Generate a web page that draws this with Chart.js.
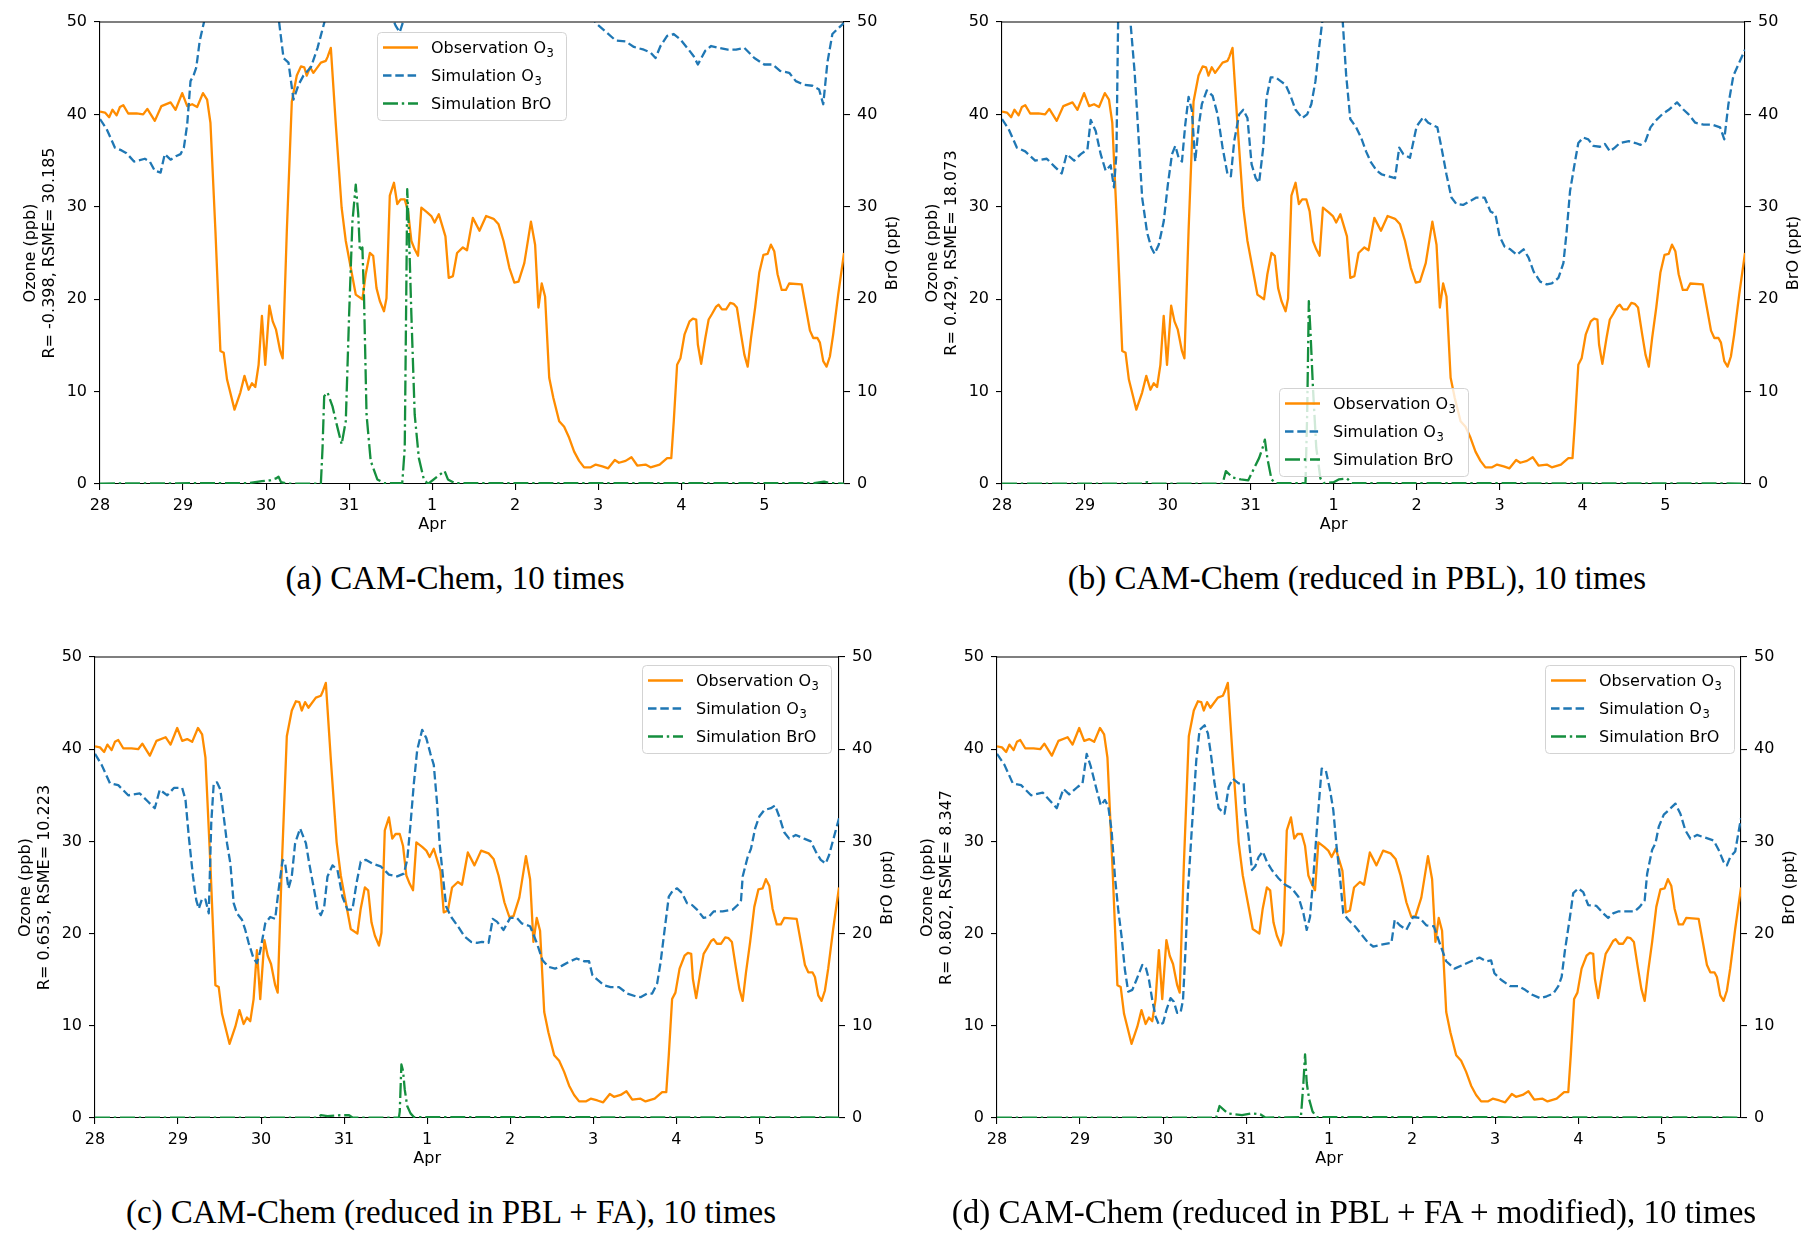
<!DOCTYPE html>
<html>
<head>
<meta charset="utf-8">
<title>Ozone and BrO, CAM-Chem runs</title>
<script src="https://cdn.jsdelivr.net/npm/chart.js@4.4.1/dist/chart.umd.min.js"></script>
<style>
  html, body { margin: 0; padding: 0; background: #fff; }
  body { width: 1819px; height: 1247px; position: relative; overflow: hidden; }
  .panel { position: absolute; }
  .caption {
    position: absolute;
    font-family: "Liberation Serif", "Times New Roman", serif;
    font-size: 33px;
    line-height: 33px;
    white-space: nowrap;
    transform: translateX(-50%);
    color: #000;
  }
</style>
</head>
<body>
<script>
// time axis: days since 28 Mar 00:00
const dayTicks = [0, 1, 2, 3, 4, 5, 6, 7, 8];
const dayLabels = ['28', '29', '30', '31', ['1', 'Apr'], '2', '3', '4', '5'];
const dayMax = 8.96;

const seriesNames = ['Observation O₃', 'Simulation O₃', 'Simulation BrO'];
const captions = [
    '(a) CAM-Chem, 10 times',
    '(b) CAM-Chem (reduced in PBL), 10 times',
    '(c) CAM-Chem (reduced in PBL + FA), 10 times',
    '(d) CAM-Chem (reduced in PBL + FA + modified), 10 times'
];
const statLabels = [
    'R= -0.398, RSME= 30.185',
    'R= 0.429, RSME= 18.073',
    'R= 0.653, RSME= 10.223',
    'R= 0.802, RSME= 8.347'
];

// observed ozone (ppb), same in all panels
const obsDays = [0.00,0.06,0.11,0.15,0.20,0.24,0.28,0.34,0.44,0.52,0.57,0.66,0.74,0.85,0.91,0.99,1.05,1.11,1.17,1.24,1.29,1.33,1.39,1.45,1.49,1.53,1.62,1.69,1.74,1.79,1.83,1.87,1.91,1.95,1.99,2.04,2.08,2.12,2.17,2.20,2.25,2.31,2.37,2.42,2.46,2.49,2.53,2.57,2.66,2.72,2.74,2.78,2.84,2.91,2.96,3.02,3.08,3.16,3.20,3.25,3.29,3.33,3.37,3.42,3.45,3.49,3.54,3.58,3.62,3.67,3.71,3.75,3.79,3.83,3.87,3.94,3.99,4.03,4.08,4.16,4.20,4.25,4.30,4.37,4.42,4.49,4.57,4.65,4.74,4.80,4.86,4.93,4.99,5.04,5.11,5.19,5.24,5.28,5.32,5.36,5.41,5.46,5.53,5.59,5.65,5.71,5.77,5.83,5.91,5.97,6.05,6.12,6.20,6.25,6.33,6.40,6.47,6.57,6.63,6.74,6.83,6.88,6.91,6.95,6.99,7.04,7.10,7.14,7.18,7.20,7.24,7.29,7.33,7.37,7.42,7.45,7.49,7.54,7.59,7.63,7.67,7.72,7.76,7.80,7.84,7.89,7.94,7.99,8.04,8.08,8.12,8.16,8.21,8.26,8.30,8.45,8.50,8.55,8.59,8.64,8.67,8.71,8.75,8.79,8.83,8.89,8.96];
const obsPpb = [40.3,40.2,39.7,40.5,39.9,40.8,41.0,40.1,40.1,40.0,40.6,39.3,40.9,41.3,40.5,42.3,40.9,41.1,40.8,42.3,41.6,39.1,27.4,14.4,14.2,11.3,8.05,9.9,11.7,10.2,10.9,10.5,12.9,18.2,12.9,19.3,17.6,16.7,14.4,13.6,27.4,41.4,44.2,45.2,45.1,44.2,45.1,44.5,45.6,45.8,46.2,47.2,38.9,29.9,26.3,23.4,20.5,20.0,22.7,25.0,24.7,21.2,19.8,18.7,20.1,31.2,32.6,30.3,30.8,30.8,29.5,26.3,25.4,24.7,29.9,29.4,29.0,28.3,29.2,26.8,22.3,22.5,25.0,25.6,25.3,28.8,27.4,29.0,28.7,28.1,26.3,23.4,21.8,21.9,23.9,28.4,25.9,19.1,21.7,20.3,11.5,9.3,6.8,6.2,5.0,3.5,2.5,1.8,1.8,2.1,1.9,1.7,2.6,2.3,2.5,2.9,2.0,2.1,1.8,2.1,2.8,2.8,6.8,12.9,13.6,16.2,17.6,17.9,17.8,15.1,13.0,15.8,17.8,18.4,19.2,19.4,18.9,18.9,19.6,19.5,19.1,16.2,14.0,12.7,15.8,19.1,22.9,24.8,24.9,25.9,25.2,22.7,21.0,21.0,21.7,21.6,19.1,16.6,15.8,15.8,15.3,13.3,12.7,13.8,16.2,20.5,25.0];

// (a) simulated ozone (ppb); values above 50 run off the top of the plot
const simDaysA = [0.00,0.08,0.18,0.26,0.32,0.41,0.54,0.60,0.66,0.73,0.78,0.85,0.92,0.97,1.01,1.05,1.09,1.13,1.16,1.20,1.25,1.32,1.50,1.80,2.05,2.15,2.21,2.27,2.33,2.39,2.45,2.54,2.62,2.70,2.78,3.00,3.30,3.50,3.56,3.61,3.66,3.75,4.20,4.80,5.50,5.90,5.97,6.11,6.21,6.33,6.43,6.55,6.63,6.69,6.75,6.83,6.91,6.99,7.09,7.15,7.20,7.29,7.36,7.45,7.56,7.66,7.76,7.88,8.00,8.10,8.19,8.30,8.38,8.48,8.58,8.66,8.71,8.76,8.82,8.90,8.96];
const simPpbA = [39.5,38.4,36.4,36.1,35.8,34.9,35.2,34.9,33.9,33.7,35.7,35.1,35.5,35.7,36.4,38.9,43.6,44.3,45.1,47.9,49.9,56,62,64,58,50.5,46.1,45.6,41.6,43.2,44.2,45.1,47.2,49.9,54,58,55,51,49.6,48.9,50.3,53,60,58,55,51,49.9,48.8,48.0,47.9,47.3,47.0,46.7,46.1,47.4,48.5,48.7,48.1,47.0,46.3,45.4,46.9,47.4,47.2,47.0,47.0,47.2,46.1,45.4,45.4,44.7,44.5,43.6,43.2,43.1,42.7,41.1,45.6,48.7,49.4,49.9];
// (a) simulated BrO (ppt)
const broDaysA = [0.00,1.80,1.95,2.05,2.12,2.15,2.18,2.25,2.66,2.68,2.70,2.74,2.80,2.86,2.91,2.96,3.00,3.04,3.08,3.11,3.13,3.16,3.18,3.21,3.26,3.34,3.42,3.64,3.67,3.69,3.70,3.72,3.75,3.79,3.84,3.90,3.95,4.06,4.15,4.19,4.27,8.60,8.72,8.80,8.96];
const broPptA = [0.05,0.1,0.3,0.4,0.6,0.8,0.2,0.05,0.05,3.9,9.5,9.9,8.4,6.1,4.3,6.8,18.3,28.4,32.4,29.2,25.2,25.6,20.1,7.5,2.5,0.5,0.1,0.1,3.9,22,31.9,27.4,18.3,7.5,2.8,0.5,0.0,0.8,1.4,0.5,0.1,0.1,0.25,0.1,0.05];

// (b)
const simDaysB = [0.00,0.08,0.18,0.28,0.40,0.54,0.64,0.72,0.78,0.87,0.95,1.03,1.07,1.13,1.19,1.25,1.31,1.35,1.38,1.40,1.44,1.50,1.55,1.60,1.65,1.69,1.75,1.80,1.84,1.89,1.95,2.00,2.05,2.09,2.13,2.17,2.21,2.25,2.29,2.33,2.37,2.41,2.47,2.54,2.60,2.66,2.72,2.76,2.80,2.86,2.91,2.96,3.01,3.06,3.10,3.15,3.19,3.24,3.30,3.36,3.42,3.48,3.54,3.62,3.68,3.73,3.78,3.82,3.86,3.92,4.00,4.08,4.11,4.15,4.20,4.27,4.33,4.39,4.45,4.52,4.58,4.66,4.74,4.79,4.84,4.92,5.00,5.08,5.14,5.25,5.30,5.36,5.42,5.48,5.56,5.64,5.72,5.82,5.89,5.95,6.00,6.06,6.13,6.21,6.29,6.35,6.41,6.49,6.57,6.63,6.71,6.77,6.81,6.85,6.91,6.95,7.01,7.07,7.13,7.21,7.27,7.33,7.39,7.45,7.56,7.64,7.70,7.76,7.82,7.88,7.96,8.04,8.14,8.22,8.28,8.36,8.46,8.56,8.66,8.71,8.76,8.82,8.90,8.96];
const simPpbB = [39.5,38.4,36.4,36.0,35.0,35.2,34.3,33.6,35.7,35.0,35.7,36.2,39.4,38.2,35.7,33.9,34.5,32.1,35.7,49.9,58,60,49.9,44.5,37.1,31.0,27.2,25.6,24.9,25.9,28.4,32.4,35.7,36.6,35.3,34.9,38.9,41.9,40.4,34.9,38.6,41.1,42.6,42.0,40.0,36.4,33.5,33.3,37.1,40.0,40.5,39.6,34.6,33.1,32.6,36.4,41.8,44.0,44.0,43.6,43.2,42.0,40.5,39.6,40.0,41.1,43.6,46.9,49.9,56,58,53,49.9,44.3,39.5,38.6,37.5,36.0,34.8,33.9,33.5,33.3,33.1,36.4,35.7,35.3,38.7,39.7,39.1,38.6,36.4,33.5,31.0,30.3,30.2,30.6,31.0,31.0,29.5,29.2,26.8,25.7,25.4,24.8,25.4,24.5,23.0,21.9,21.6,21.7,22.3,23.9,27.4,31.7,34.9,36.9,37.5,37.3,36.6,36.5,36.8,36.0,36.4,36.9,37.1,36.9,36.7,37.1,38.6,39.3,40.0,40.5,41.3,40.5,40.0,39.1,38.9,38.9,38.6,37.3,41.1,44.2,45.8,47.0];
const broDaysB = [0.00,1.70,1.75,1.80,2.66,2.70,2.78,2.88,2.97,3.04,3.10,3.15,3.17,3.20,3.25,3.30,3.66,3.68,3.70,3.72,3.75,3.79,3.84,3.88,4.00,4.06,4.16,4.22,8.96];
const broPptB = [0.05,0.05,0.2,0.05,0.05,1.4,0.7,0.5,0.4,1.7,2.8,4.1,4.8,2.8,0.5,0.1,0.1,7.5,19.8,16.5,10.4,3.9,0.6,0.1,0.2,0.5,0.6,0.1,0.05];

// (c)
const simDaysC = [0.00,0.08,0.18,0.28,0.40,0.54,0.64,0.72,0.78,0.87,0.95,1.05,1.09,1.13,1.18,1.22,1.25,1.29,1.33,1.37,1.40,1.43,1.47,1.51,1.55,1.59,1.63,1.67,1.71,1.77,1.81,1.85,1.91,1.95,1.99,2.05,2.11,2.17,2.21,2.26,2.29,2.33,2.37,2.41,2.47,2.54,2.58,2.64,2.68,2.72,2.76,2.80,2.86,2.92,2.98,3.04,3.10,3.15,3.20,3.26,3.34,3.44,3.54,3.64,3.72,3.76,3.80,3.84,3.88,3.94,3.99,4.04,4.08,4.12,4.15,4.19,4.23,4.29,4.37,4.45,4.53,4.60,4.66,4.74,4.79,4.84,4.92,5.00,5.08,5.14,5.24,5.32,5.39,5.46,5.54,5.62,5.70,5.80,5.89,5.95,5.99,6.05,6.13,6.21,6.31,6.41,6.51,6.57,6.65,6.71,6.77,6.81,6.85,6.91,6.96,7.01,7.07,7.13,7.19,7.25,7.33,7.39,7.45,7.56,7.68,7.74,7.78,7.80,7.86,7.90,7.95,8.00,8.06,8.14,8.19,8.24,8.30,8.36,8.44,8.54,8.62,8.68,8.74,8.80,8.84,8.90,8.96];
const simPpbC = [39.5,38.3,36.3,36.1,35.0,35.2,34.3,33.6,35.6,35.0,35.8,35.8,34.5,30.5,26.2,23.6,22.7,23.8,23.7,22.2,32.0,36.3,36.4,35.6,32.7,29.8,27.6,23.3,22.2,21.5,20.4,19.0,17.3,16.8,18.1,21.1,21.8,21.6,24.7,28.0,27.6,24.9,26.2,29.8,31.4,29.8,27.6,24.7,22.6,22.0,22.9,26.2,27.4,26.9,24.0,22.6,22.6,25.5,27.8,28.0,27.6,27.3,26.4,26.2,26.5,28.0,31.9,36.3,39.9,42.1,41.2,39.5,38.3,34.1,29.8,26.2,22.9,21.8,20.8,19.7,19.1,19.0,19.1,19.0,21.6,21.3,20.4,21.7,21.7,21.1,20.8,19.0,17.1,16.4,16.2,16.5,16.9,17.3,17.0,17.0,15.5,15.0,14.4,14.2,14.2,13.5,13.2,13.1,13.5,13.5,14.6,16.8,19.7,24.0,24.7,24.9,24.4,23.3,23.1,22.6,21.7,21.8,22.4,22.4,22.6,23.1,23.6,26.2,28.3,29.2,31.4,32.7,33.4,33.6,33.9,32.7,31.0,30.3,30.7,30.3,30.0,28.9,28.0,27.6,28.5,30.5,32.5];
const broDaysC = [0.00,2.68,2.72,2.80,2.95,3.06,3.10,3.66,3.67,3.69,3.71,3.73,3.76,3.80,3.84,8.96];
const broPptC = [0.05,0.05,0.3,0.2,0.3,0.3,0.05,0.05,0.7,5.8,5.1,3.1,1.3,0.5,0.1,0.05];

// (d)
const simDaysD = [0.00,0.09,0.19,0.29,0.41,0.55,0.65,0.72,0.80,0.87,0.97,1.03,1.08,1.13,1.20,1.25,1.30,1.34,1.38,1.42,1.46,1.50,1.54,1.58,1.63,1.68,1.75,1.79,1.83,1.87,1.91,1.95,2.00,2.04,2.09,2.13,2.17,2.21,2.24,2.27,2.30,2.35,2.40,2.44,2.50,2.54,2.58,2.62,2.67,2.74,2.79,2.84,2.91,2.97,2.99,3.03,3.07,3.11,3.15,3.20,3.25,3.31,3.39,3.47,3.55,3.63,3.69,3.73,3.77,3.81,3.86,3.91,3.96,4.01,4.05,4.09,4.13,4.17,4.23,4.31,4.39,4.47,4.53,4.63,4.75,4.79,4.85,4.93,5.01,5.09,5.17,5.26,5.33,5.41,5.51,5.61,5.71,5.81,5.89,5.95,5.99,6.07,6.18,6.28,6.36,6.44,6.54,6.62,6.70,6.76,6.80,6.84,6.90,6.94,7.00,7.06,7.12,7.22,7.30,7.36,7.42,7.48,7.58,7.68,7.74,7.80,7.83,7.89,7.93,7.97,8.03,8.09,8.17,8.23,8.29,8.35,8.43,8.53,8.63,8.69,8.75,8.79,8.83,8.89,8.93,8.96];
const simPpbD = [39.5,38.3,36.3,36.1,35.0,35.3,34.3,33.6,35.7,35.1,35.9,36.3,39.5,38.1,35.6,33.9,34.5,33.8,31.2,26.2,22.6,19.7,16.1,13.7,13.9,15.0,16.6,16.4,15.0,12.8,11.0,10.1,10.3,11.7,13.0,12.6,11.4,11.4,12.8,18.2,24.7,31.9,38.8,42.1,42.6,41.7,39.2,36.3,33.6,33.0,35.9,36.8,36.3,36.3,33.4,30.5,26.9,27.3,28.3,28.9,27.8,26.9,26.0,25.3,24.9,24.0,22.2,20.4,21.8,26.2,32.3,37.9,37.7,35.6,33.4,29.4,26.2,22.2,21.5,20.8,19.9,19.0,18.6,18.8,19.0,21.5,20.9,20.4,21.8,21.7,20.9,20.8,19.0,17.0,16.2,16.6,17.0,17.4,17.0,17.1,15.7,15.0,14.3,14.3,13.9,13.4,13.0,13.2,13.5,14.3,15.3,18.2,21.8,24.4,24.9,24.5,23.1,23.0,22.2,21.7,22.2,22.4,22.4,22.4,22.9,23.6,26.5,29.1,29.8,31.6,32.9,33.4,34.1,33.0,31.2,30.3,30.7,30.4,30.1,29.1,27.8,27.4,28.3,28.9,31.0,32.5];
const broDaysD = [0.00,2.64,2.68,2.78,2.95,3.07,3.17,3.23,3.66,3.69,3.71,3.73,3.76,3.80,3.85,8.96];
const broPptD = [0.05,0.05,1.3,0.5,0.3,0.5,0.4,0.05,0.1,3.8,6.9,3.8,2.0,0.7,0.1,0.05];

const colors = { obs: '#ff8c00', sim: '#1f77b4', bro: '#158f3e' };

// plot box (page px), legend corner (page px), caption centre
const panels = [
    { plot: { l: 100, r: 844, t: 22, b: 484 }, legend: { x: 377, y: 32 }, cap: { x: 455, y: 578 },
      sim: [simDaysA, simPpbA], bro: [broDaysA, broPptA], stat: statLabels[0], caption: captions[0] },
    { plot: { l: 1002, r: 1745, t: 22, b: 484 }, legend: { x: 1279, y: 388 }, cap: { x: 1357, y: 578 },
      sim: [simDaysB, simPpbB], bro: [broDaysB, broPptB], stat: statLabels[1], caption: captions[1] },
    { plot: { l: 95, r: 839, t: 657, b: 1118 }, legend: { x: 642, y: 665 }, cap: { x: 451, y: 1212 },
      sim: [simDaysC, simPpbC], bro: [broDaysC, broPptC], stat: statLabels[2], caption: captions[2] },
    { plot: { l: 997, r: 1741, t: 657, b: 1118 }, legend: { x: 1545, y: 665 }, cap: { x: 1354, y: 1212 },
      sim: [simDaysD, simPpbD], bro: [broDaysD, broPptD], stat: statLabels[3], caption: captions[3] }
];

const PAD_L = 100, PAD_R = 66, PAD_T = 22, PAD_B = 70;

Chart.defaults.font.family = '"DejaVu Sans", sans-serif';
Chart.defaults.font.size = 16;
Chart.defaults.color = '#000';

const toPoints = (xs, ys) => xs.map((x, i) => ({ x: x, y: ys[i] }));

// top spine + right axis title (reads bottom to top like matplotlib)
const framePlugin = {
    id: 'frame',
    afterDatasetsDraw(chart, args, opts) {
        const { ctx, chartArea } = chart;
        ctx.save();
        ctx.strokeStyle = '#000';
        ctx.lineWidth = 1.1;
        ctx.beginPath();
        ctx.moveTo(chartArea.left, chartArea.top);
        ctx.lineTo(chartArea.right, chartArea.top);
        ctx.stroke();

        ctx.translate(chartArea.right + 49, (chartArea.top + chartArea.bottom) / 2);
        ctx.rotate(-Math.PI / 2);
        ctx.font = '16px "DejaVu Sans"';
        ctx.fillStyle = '#000';
        ctx.textAlign = 'center';
        ctx.textBaseline = 'middle';
        ctx.fillText(opts.rightTitle, 0, 0);
        ctx.restore();
    }
};

// label text, with a trailing "₃" drawn as a lowered smaller 3 (mathtext look)
function drawLabel(ctx, text, x, baseY) {
    const sub = text.endsWith('₃');
    const main = sub ? text.slice(0, -1) : text;
    ctx.font = '16px "DejaVu Sans"';
    ctx.fillText(main, x, baseY);
    if (sub) {
        const wMain = ctx.measureText(main).width;
        ctx.font = '11.5px "DejaVu Sans"';
        ctx.fillText('3', x + wMain + 0.5, baseY + 3.5);
    }
}

// legend box inside the axes
const boxLegendPlugin = {
    id: 'boxLegend',
    afterDatasetsDraw(chart, args, opts) {
        const { ctx } = chart;
        const x = opts.x, y = opts.y, w = 189, h = 88;
        ctx.save();
        ctx.beginPath();
        ctx.roundRect(x + 0.5, y + 0.5, w, h, 4);
        ctx.fillStyle = 'rgba(255,255,255,0.8)';
        ctx.fill();
        ctx.strokeStyle = '#d3d3d3';
        ctx.lineWidth = 1;
        ctx.stroke();

        chart.data.datasets.forEach((ds, i) => {
            const rowY = y + 15.5 + i * 28;
            ctx.beginPath();
            ctx.setLineDash(ds.borderDash || []);
            ctx.strokeStyle = ds.borderColor;
            ctx.lineWidth = ds.borderWidth;
            ctx.moveTo(x + 6, rowY);
            ctx.lineTo(x + 41, rowY);
            ctx.stroke();
            ctx.setLineDash([]);
            ctx.fillStyle = '#000';
            ctx.textAlign = 'left';
            ctx.textBaseline = 'alphabetic';
            drawLabel(ctx, ds.label, x + 54, rowY + 5.8);
        });
        ctx.restore();
    }
};

function axisStyle() {
    return {
        grid: { drawOnChartArea: false, drawTicks: true, tickLength: 6, color: '#000', lineWidth: 1.1 },
        border: { display: true, color: '#000', width: 1.1 }
    };
}

function renderPanel(p) {
    const w = (p.plot.r - p.plot.l) + PAD_L + PAD_R;
    const h = (p.plot.b - p.plot.t) + PAD_T + PAD_B;
    const left = p.plot.l - PAD_L;
    const top = p.plot.t - PAD_T;

    const holder = document.createElement('div');
    holder.className = 'panel';
    holder.style.left = left + 'px';
    holder.style.top = top + 'px';
    holder.style.width = w + 'px';
    holder.style.height = h + 'px';
    const canvas = document.createElement('canvas');
    canvas.width = w;
    canvas.height = h;
    canvas.style.width = w + 'px';
    canvas.style.height = h + 'px';
    holder.appendChild(canvas);
    document.body.appendChild(holder);

    const cap = document.createElement('div');
    cap.className = 'caption';
    cap.style.left = p.cap.x + 'px';
    cap.style.top = (p.cap.y - 16) + 'px';
    cap.textContent = p.caption;
    document.body.appendChild(cap);

    new Chart(canvas.getContext('2d'), {
        type: 'line',
        data: {
            datasets: [
                {
                    label: seriesNames[0],
                    data: toPoints(obsDays, obsPpb),
                    yAxisID: 'y',
                    borderColor: colors.obs,
                    borderWidth: 2.3,
                    order: 3
                },
                {
                    label: seriesNames[1],
                    data: toPoints(p.sim[0], p.sim[1]),
                    yAxisID: 'y',
                    borderColor: colors.sim,
                    borderWidth: 2.3,
                    borderDash: [8.5, 3.8],
                    order: 2
                },
                {
                    label: seriesNames[2],
                    data: toPoints(p.bro[0], p.bro[1]),
                    yAxisID: 'y2',
                    borderColor: colors.bro,
                    borderWidth: 2.3,
                    borderDash: [15, 3.8, 2.4, 3.8],
                    order: 1
                }
            ]
        },
        options: {
            responsive: false,
            animation: false,
            events: [],
            layout: { padding: { top: PAD_T, left: 0, right: 0, bottom: 0 } },
            elements: {
                point: { radius: 0 },
                line: { tension: 0, fill: false, borderCapStyle: 'butt', borderJoinStyle: 'round' }
            },
            plugins: {
                legend: { display: false },
                tooltip: { enabled: false },
                frame: { rightTitle: 'BrO (ppt)' },
                boxLegend: { x: p.legend.x - left, y: p.legend.y - top }
            },
            scales: {
                x: {
                    type: 'linear',
                    min: 0,
                    max: dayMax,
                    afterBuildTicks: axis => { axis.ticks = dayTicks.map(v => ({ value: v })); },
                    afterFit: axis => { axis.height = PAD_B; },
                    ticks: {
                        autoSkip: false,
                        maxRotation: 0,
                        padding: 6,
                        font: { size: 16, lineHeight: 1.2 },
                        callback: (value, index) => dayLabels[index]
                    },
                    ...axisStyle()
                },
                y: {
                    type: 'linear',
                    position: 'left',
                    min: 0,
                    max: 50,
                    afterFit: axis => { axis.width = PAD_L; },
                    ticks: { stepSize: 10, padding: 7 },
                    title: {
                        display: true,
                        text: ['Ozone (ppb)', p.stat],
                        font: { size: 16, lineHeight: 1.2 },
                        padding: { top: 21, bottom: 0 }
                    },
                    ...axisStyle()
                },
                y2: {
                    type: 'linear',
                    position: 'right',
                    min: 0,
                    max: 50,
                    afterFit: axis => { axis.width = PAD_R; },
                    ticks: { stepSize: 10, padding: 7 },
                    ...axisStyle()
                }
            }
        },
        plugins: [framePlugin, boxLegendPlugin]
    });
}

panels.forEach(renderPanel);
</script>
</body>
</html>
